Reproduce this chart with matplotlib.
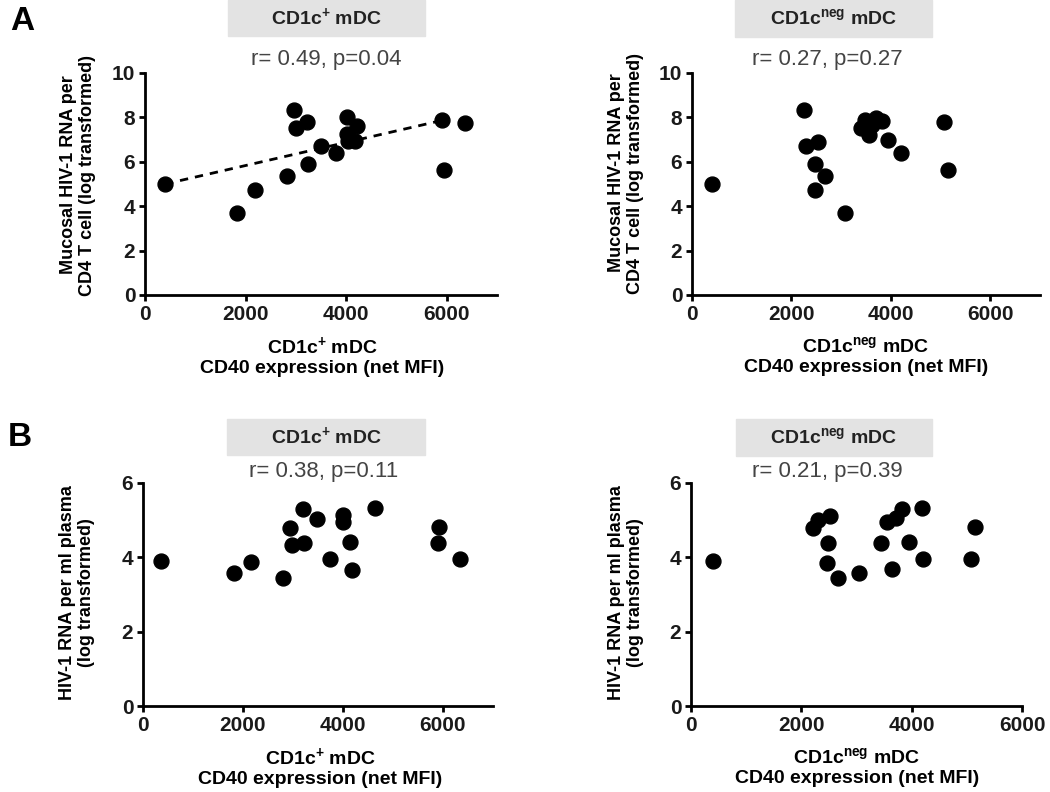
import numpy as np
import matplotlib
matplotlib.use("Agg")
import matplotlib.pyplot as plt
from matplotlib.patches import Rectangle

plt.rcParams['font.family'] = ['Liberation Sans', 'DejaVu Sans']
plt.rcParams['mathtext.fontset'] = 'custom'
plt.rcParams['mathtext.rm'] = 'Liberation Sans'
plt.rcParams['mathtext.bf'] = 'Liberation Sans:bold'

# A: mucosal HIV-1 RNA vs CD40 (net MFI)
a_pos_x = [400, 1830, 2180, 2830, 2970, 3010, 3220, 3250, 3500, 3800,
           4020, 4020, 4030, 4180, 4210, 5900, 5950, 6370]
a_pos_y = [5.0, 3.7, 4.75, 5.35, 8.35, 7.5, 7.8, 5.9, 6.7, 6.4,
           8.02, 7.26, 6.92, 6.95, 7.62, 7.9, 5.64, 7.75]
a_neg_x = [410, 2250, 2300, 2530, 2470, 2680, 2470, 3070, 3400, 3470,
           3570, 3630, 3700, 3830, 3520, 3950, 4210, 5070, 5150]
a_neg_y = [5.0, 8.35, 6.7, 6.88, 5.92, 5.35, 4.75, 3.7, 7.52, 7.9,
           7.22, 7.67, 7.97, 7.82, 7.6, 6.97, 6.4, 7.78, 5.65]
fit_x = [400, 5880]
fit_y = [5.0, 7.85]

# B: plasma HIV-1 RNA vs CD40 (net MFI)
b_pos_x = [350, 1820, 2150, 2800, 2940, 2970, 3190, 3220, 3470, 3740,
           3990, 3990, 4130, 4170, 4630, 5910, 5890, 6330]
b_pos_y = [3.91, 3.57, 3.87, 3.45, 4.78, 4.33, 5.29, 4.39, 5.02, 3.96,
           5.14, 4.96, 4.41, 3.66, 5.32, 4.81, 4.39, 3.96]
b_neg_x = [390, 2220, 2300, 2520, 2480, 2470, 2660, 3050, 3440, 3550,
           3710, 3820, 3650, 3960, 4190, 4200, 5080, 5150]
b_neg_y = [3.91, 4.78, 5.0, 5.12, 4.39, 3.86, 3.45, 3.57, 4.38, 4.94,
           5.07, 5.29, 3.68, 4.41, 5.32, 3.96, 3.96, 4.81]

W, H = 1050, 792


def fx(px):
    return px / W


def fy(py):
    return 1 - py / H


fig = plt.figure(figsize=(10.5, 7.92), dpi=100)

panels = [
    # x, y, axes box (left, right, top, bottom px), xmax, ymax, yticks, cell
    (a_pos_x, a_pos_y, (145, 497, 73, 295), 7000, 10, [0, 2, 4, 6, 8, 10], '+'),
    (a_neg_x, a_neg_y, (692, 1040, 73, 295), 7000, 10, [0, 2, 4, 6, 8, 10], 'neg'),
    (b_pos_x, b_pos_y, (143, 493, 483, 706), 7000, 6, [0, 2, 4, 6], '+'),
    (b_neg_x, b_neg_y, (691, 1022, 483, 706), 6000, 6, [0, 2, 4, 6], 'neg'),
]
ylabels = ['Mucosal HIV-1 RNA per\nCD4 T cell (log transformed)',
           'Mucosal HIV-1 RNA per\nCD4 T cell (log transformed)',
           'HIV-1 RNA per ml plasma\n(log transformed)',
           'HIV-1 RNA per ml plasma\n(log transformed)']
stats = ['r= 0.49, p=0.04', 'r= 0.27, p=0.27', 'r= 0.38, p=0.11', 'r= 0.21, p=0.39']
boxes = [(228, 425, 0, 36), (735, 932, 0, 37), (227, 425, 419, 455), (736, 932, 419, 456)]
stat_pos = [(326, 60), (827, 60), (324, 472), (827, 472)]
ylab_pos = [(78, 175), (626, 173), (77, 593), (626, 593)]
xlab_pos = [(322, 356), (866, 356), (320, 767), (857, 767)]

axes = []
for i, (xs, ys, (l, r, t, b), xmax, ymax, yt, cell) in enumerate(panels):
    ax = fig.add_axes([fx(l), fy(b), (r - l) / W, (b - t) / H])
    ax.scatter(xs, ys, s=115, color='black', zorder=3, clip_on=False)
    ax.set_xlim(0, xmax)
    ax.set_ylim(0, ymax)
    ax.set_xticks([0, 2000, 4000, 6000])
    ax.set_yticks(yt)
    for s in ['top', 'right']:
        ax.spines[s].set_visible(False)
    for s in ['left', 'bottom']:
        ax.spines[s].set_linewidth(2)
    ax.tick_params(width=2, length=4, labelsize=15, pad=3, labelcolor='#1a1a1a')
    for lab in ax.get_xticklabels() + ax.get_yticklabels():
        lab.set_fontweight('bold')
    axes.append(ax)

    sup = r'$^{\mathbf{+}}$' if cell == '+' else r'$^{\mathbf{neg}}$'
    name = 'CD1c' + sup + ' mDC'

    bl, br, bt, bb = boxes[i]
    fig.patches.append(Rectangle((fx(bl), fy(bb)), (br - bl) / W, (bb - bt) / H,
                                 transform=fig.transFigure, color='#e3e3e3', zorder=0))
    fig.text(fx((bl + br) / 2), fy((bt + bb) / 2), name, ha='center', va='center',
             fontsize=14, fontweight='bold', color='#222222')
    fig.text(fx(stat_pos[i][0]), fy(stat_pos[i][1]), stats[i], ha='center', va='center',
             fontsize=16, color='#444444')
    fig.text(fx(ylab_pos[i][0]), fy(ylab_pos[i][1]), ylabels[i], ha='center', va='center',
             rotation=90, fontsize=13, fontweight='bold', linespacing=1.15)
    fig.text(fx(xlab_pos[i][0]), fy(xlab_pos[i][1]), name + '\nCD40 expression (net MFI)',
             ha='center', va='center', fontsize=14, fontweight='bold', linespacing=1.15)

axes[0].plot(fit_x, fit_y, '--', color='black', lw=2, dashes=(3, 2.5), zorder=2)

fig.text(fx(22), fy(22), 'A', ha='center', va='center', fontsize=24, fontweight='bold')
fig.text(fx(20), fy(437), 'B', ha='center', va='center', fontsize=24, fontweight='bold')

fig.savefig('out.png', dpi=100)
